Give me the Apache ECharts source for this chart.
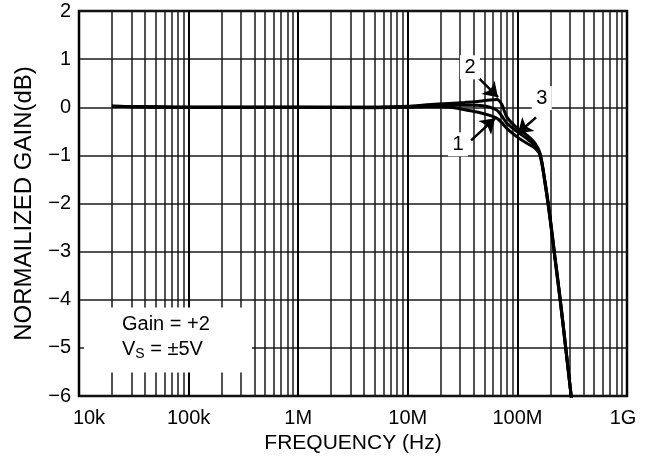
<!DOCTYPE html>
<html><head><meta charset="utf-8">
<script src="https://cdn.jsdelivr.net/npm/echarts@6/dist/echarts.min.js"></script>
<style>html,body{margin:0;padding:0;background:#fff}#c{width:654px;height:464px}</style>
</head><body><div id="c"></div>
<script>
const freqs  = [2e4, 1e5, 1e6, 5e6, 1e7, 1.5e7, 2.4e7, 3.3e7, 4.3e7, 5.6e7, 6.5e7, 7.2e7, 8e7, 1e8, 1.22e8, 1.45e8, 1.61e8, 1.79e8, 1.98e8, 2.2e8, 2.45e8, 2.72e8, 3.13e8];
const curve1 = [0.02, 0, 0, -0.01, 0, 0.01, 0, -0.05, -0.1, -0.17, -0.23, -0.32, -0.44, -0.62, -0.75, -0.85, -1.0, -1.6, -2.3, -3.15, -4.0, -4.9, -6.1];
const curve2 = [0.02, 0, 0, 0, 0.02, 0.05, 0.08, 0.1, 0.12, 0.15, 0.16, 0.06, -0.2, -0.44, -0.58, -0.75, -0.96, -1.55, -2.25, -3.1, -3.95, -4.85, -6.1];
const curve3 = [0.02, 0, 0, 0, 0.01, 0.03, 0.04, 0.04, 0.04, 0.0, -0.06, -0.18, -0.33, -0.51, -0.65, -0.8, -0.98, -1.58, -2.28, -3.12, -3.97, -4.87, -6.1];
const xTickLabels = ['10k', '100k', '1M', '10M', '100M', '1G'];
const yTickLabels = ['\u22126', '\u22125', '\u22124', '\u22123', '\u22122', '\u22121', '0', '1', '2'];
const markerLabels = ['1', '2', '3'];
const markerPos = [[2.87e7, -0.77], [3.69e7, 0.83], [1.67e8, 0.19]];
const arrowFrom = [[3.78e7, -0.69], [4.28e7, 0.64], [1.48e8, -0.21]];
const arrowTo   = [[6.25e7, -0.23], [6.65e7, 0.21], [1.01e8, -0.54]];
const noteBox = [[1.11e4, -4.16], [3.79e5, -5.51]];
const noteLines = ['Gain = +2', 'V{s|S} = \u00b15V'];

const FONT = 'Liberation Sans, Arial, sans-serif';
const chart = echarts.init(document.getElementById('c'), null, {renderer: 'canvas'});

function mk(vals) { return freqs.map((f, i) => [f, vals[i]]); }
const lineSeries = [curve1, curve2, curve3].map((c, k) => ({
  type: 'line', name: 'c' + (k + 1), data: mk(c), symbol: 'none', smooth: 0.3,
  lineStyle: {color: '#000', width: 3}, z: 5, animation: false, silent: true
}));
lineSeries[0].markArea = {
  silent: true,
  itemStyle: {color: '#fff', opacity: 1},
  label: {
    show: true, position: [38, 5], color: '#000', fontFamily: FONT, fontSize: 20, lineHeight: 25,
    formatter: noteLines.join('\n'),
    rich: {s: {fontSize: 14, fontFamily: FONT, color: '#000', padding: [9, 0, 0, 0]}}
  },
  data: [[{coord: noteBox[0]}, {coord: noteBox[1]}]]
};
const annot = {
  type: 'line', name: 'annot', data: [], z: 10, animation: false, silent: true,
  markLine: {
    silent: true, symbol: ['none', 'arrow'], symbolSize: 14,
    itemStyle: {color: '#000'},
    lineStyle: {color: '#000', width: 2.5, type: 'solid'}, label: {show: false},
    data: arrowFrom.map((a, i) => [{coord: a}, {coord: arrowTo[i]}])
  },
  markPoint: {
    silent: true, symbol: 'rect', symbolSize: [20, 24],
    itemStyle: {color: '#fff'},
    label: {show: true, color: '#000', fontFamily: FONT, fontSize: 20, formatter: p => p.name},
    data: markerPos.map((p, i) => ({name: markerLabels[i], coord: p}))
  }
};

chart.setOption({
  animation: false,
  backgroundColor: '#fff',
  grid: {left: 79, top: 11, right: 27, bottom: 68, show: true, borderColor: '#000', borderWidth: 2.5, backgroundColor: 'transparent'},
  xAxis: {
    type: 'log', logBase: 10, min: 1e4, max: 1e9,
    name: 'FREQUENCY (Hz)', nameLocation: 'middle', nameGap: 37,
    nameTextStyle: {color: '#000', fontFamily: FONT, fontSize: 21},
    axisLine: {show: false}, axisTick: {show: false},
    minorTick: {show: false, splitNumber: 9},
    splitLine: {show: true, lineStyle: {color: '#000', width: 2}},
    minorSplitLine: {show: true, lineStyle: {color: '#1a1a1a', width: 1.5}},
    axisLabel: {
      color: '#000', fontFamily: FONT, fontSize: 20, margin: 12, showMinLabel: true, showMaxLabel: true,
      formatter: v => {
        const i = Math.round(Math.log10(v)) - 4;
        const t = xTickLabels[i] || '';
        if (i === 0) return '{a|' + t + '}';
        if (i === xTickLabels.length - 1) return '{b|' + t + '}';
        return t;
      },
      rich: {
        a: {color: '#000', fontFamily: FONT, fontSize: 20, padding: [0, 0, 0, 20]},
        b: {color: '#000', fontFamily: FONT, fontSize: 20, padding: [0, 8, 0, 0]}
      }
    }
  },
  yAxis: {
    type: 'value', min: -6, max: 2, interval: 1,
    name: 'NORMAILIZED GAIN(dB)', nameLocation: 'middle', nameGap: 43,
    nameTextStyle: {color: '#000', fontFamily: FONT, fontSize: 24},
    axisLine: {show: false}, axisTick: {show: false},
    splitLine: {show: true, lineStyle: {color: '#1a1a1a', width: 1.7}},
    axisLabel: {color: '#000', fontFamily: FONT, fontSize: 20, margin: 8, formatter: v => yTickLabels[Math.round(v) + 6]}
  },
  series: lineSeries.concat([annot])
});
</script></body></html>
